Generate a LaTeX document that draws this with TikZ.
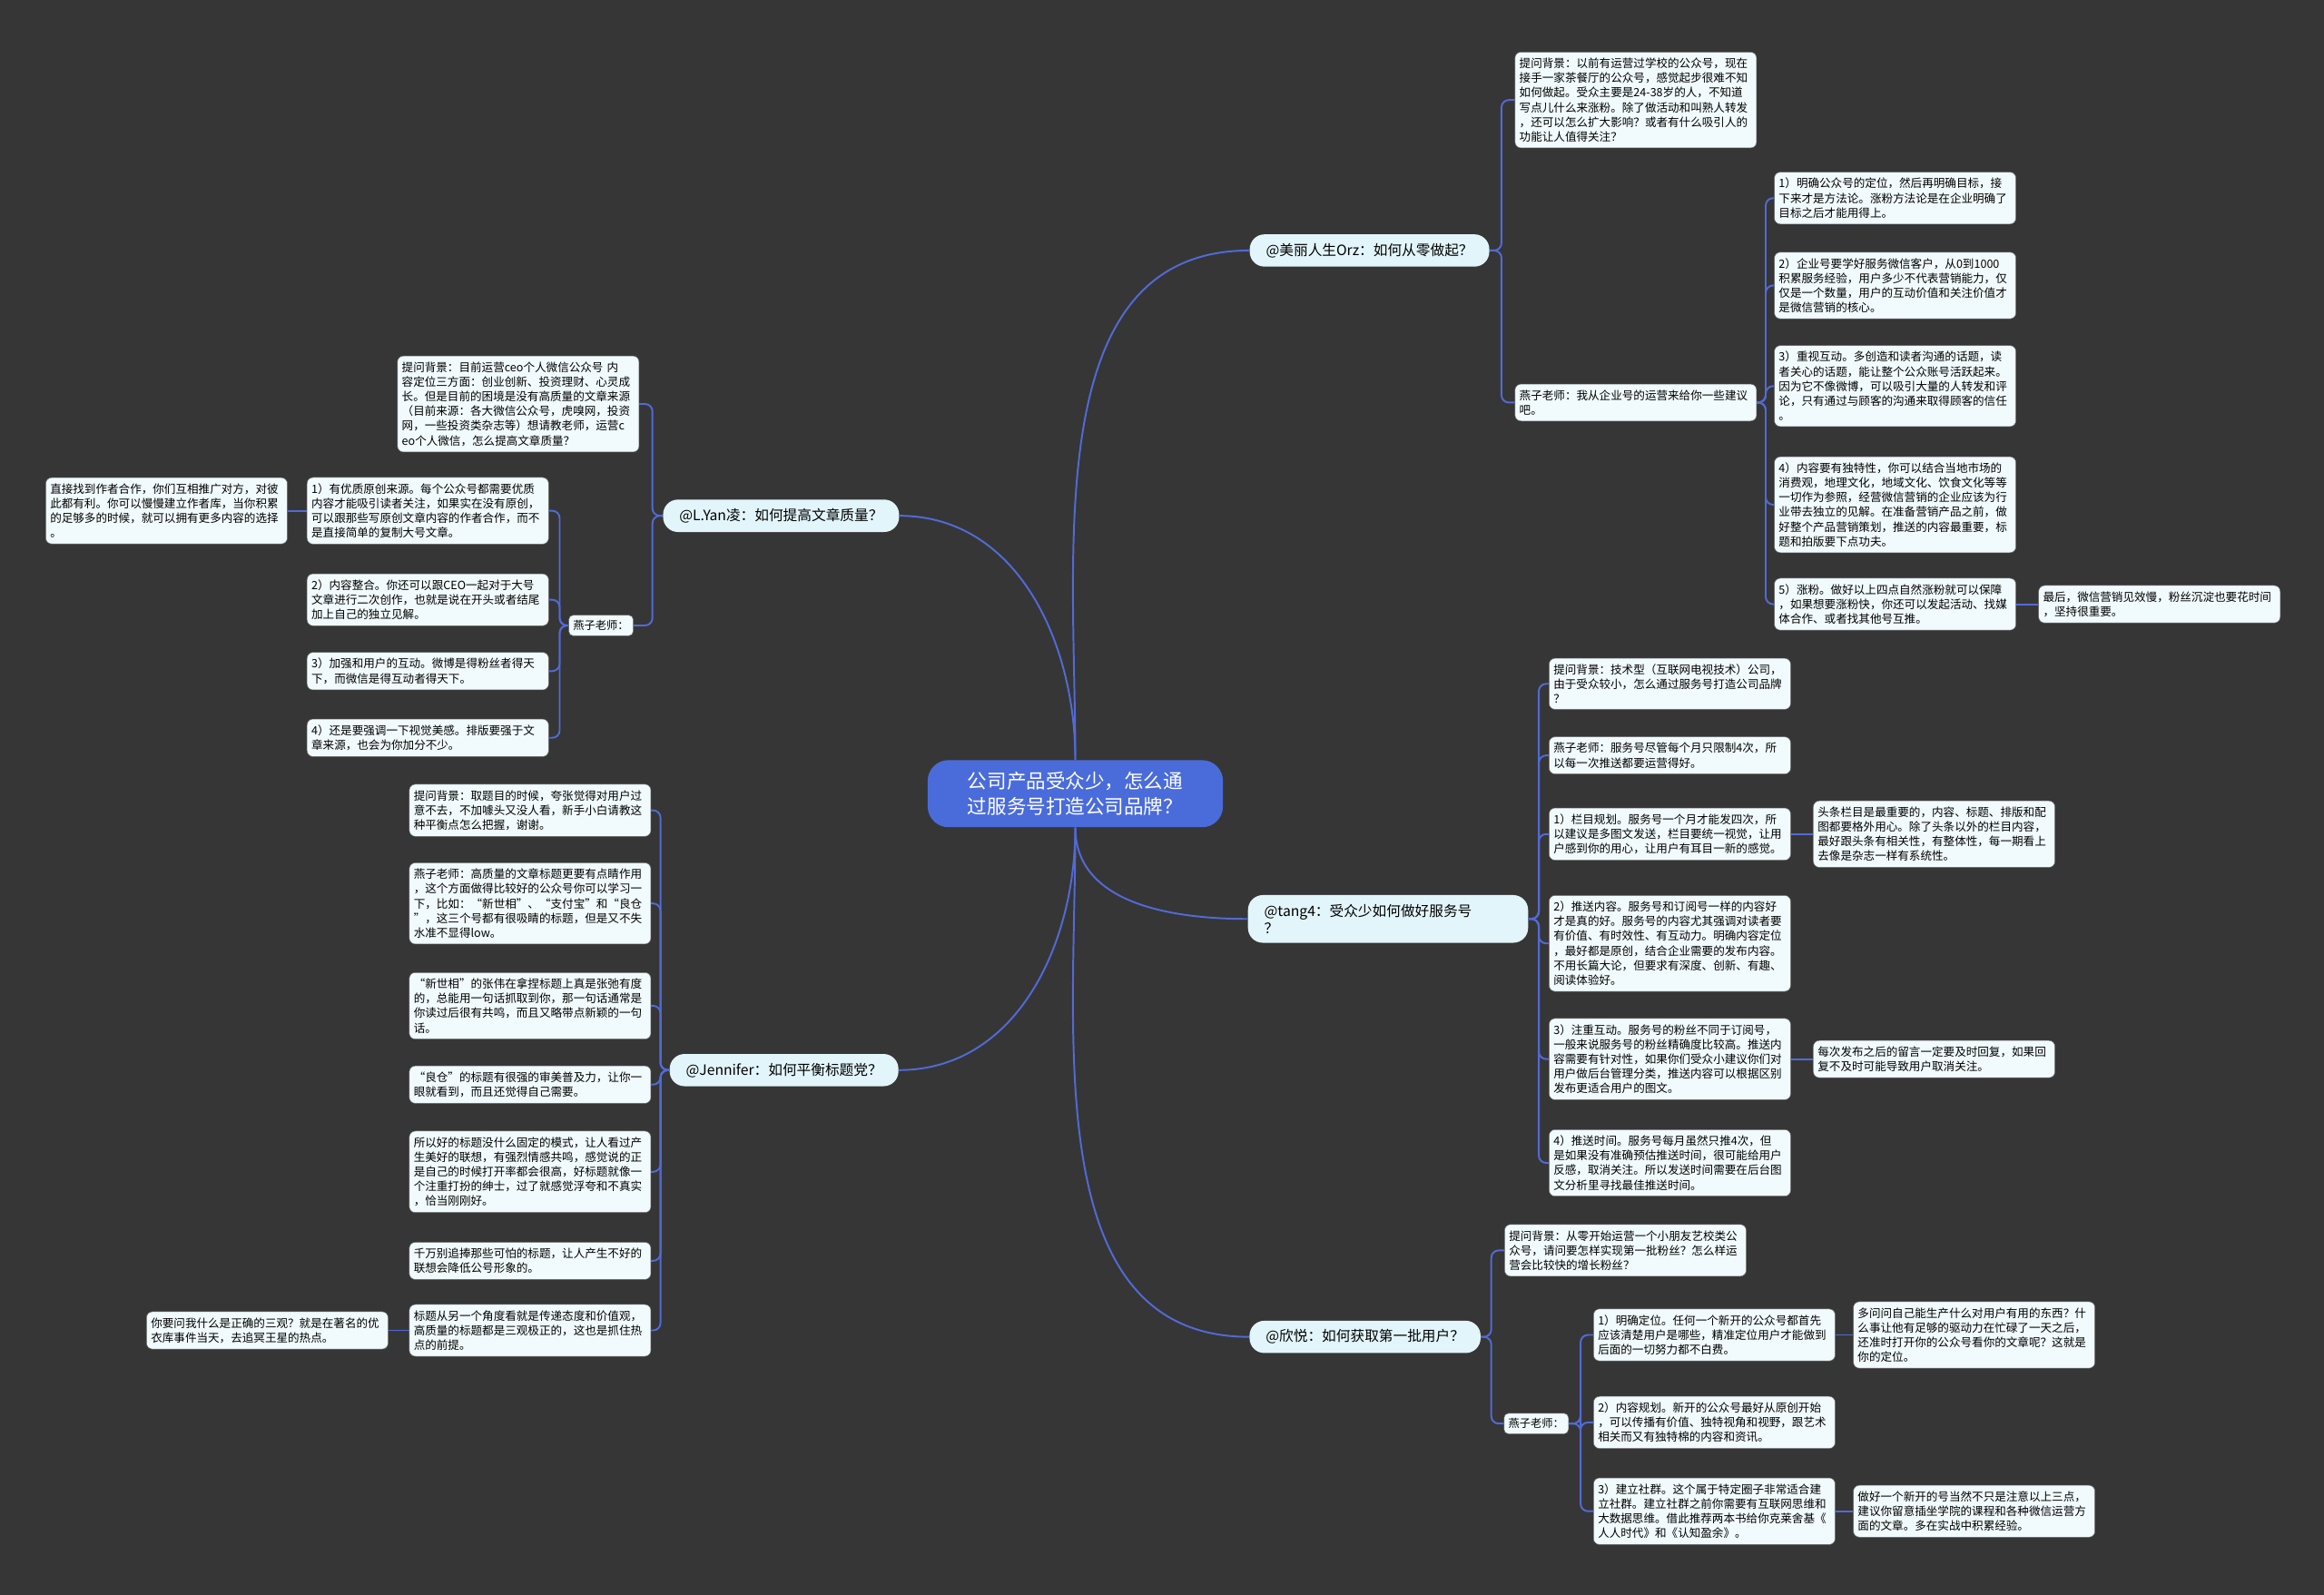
\documentclass[tikz,border=0pt]{standalone}
\usepackage{fontspec}
\usepackage{tikz}
\usepackage{xcolor}
\usetikzlibrary{positioning}
\newfontfamily\cjk{Noto Sans CJK SC}
\definecolor{fondo}{RGB}{54,54,54}
\definecolor{azulraiz}{RGB}{74,108,218}
\definecolor{azullinea}{RGB}{82,106,214}
\definecolor{celeste}{RGB}{226,245,250}
\definecolor{nube}{RGB}{241,250,252}

\begin{document}
\begin{tikzpicture}[x=1pt, y=-1pt,
	raiz/.style={fill=azulraiz, text=white, rounded corners=14pt, align=center, inner xsep=27pt, inner ysep=8pt, font=\cjk\fontsize{13.2}{17}\selectfont},
	rama/.style={fill=celeste, rounded corners=10pt, align=left, inner xsep=11pt, inner ysep=6pt, font=\cjk\fontsize{9.6}{12}\selectfont},
	nota/.style={fill=nube, draw=black!60, line width=0.3pt, rounded corners=4pt, anchor=north west, text width=157pt, align=left, inner xsep=3pt, inner ysep=4pt, font=\cjk\fontsize{7.7}{9.9}\selectfont},
	etiqueta/.style={fill=nube, draw=black!60, line width=0.3pt, rounded corners=3pt, inner xsep=3pt, inner ysep=3.5pt, font=\cjk\fontsize{7.5}{9.75}\selectfont},
	arista/.style={draw=azullinea, line width=1.2pt, rounded corners=5pt}
	]

	%Fondo
	\path[use as bounding box, fill=fondo] (0,0) rectangle (1568,1076);

	%Nodo central y ramas
	\node[raiz] (c) at (725.5,535.5) {公司产品受众少，怎么通\\过服务号打造公司品牌？};
	\node[rama] (b1) at (924,169) {@美丽人生Orz：如何从零做起？};
	\node[rama] (b2) at (527,348) {@L.Yan凌：如何提高文章质量？};
	\node[rama] (b3) at (529,722) {@Jennifer：如何平衡标题党？};
	\node[rama, text width=167pt] (b4) at (936.5,620) {@tang4：受众少如何做好服务号\\？};
	\node[rama] (b5) at (921,902) {@欣悦：如何获取第一批用户？};

	\draw[arista] (c.north) to[out=90,in=180] (b1.west);
	\draw[arista] (c.north) to[out=90,in=0] (b2.east);
	\draw[arista] (c.south) to[out=-90,in=0] (b3.east);
	\draw[arista] (c.south) to[out=-90,in=180] (b4.west);
	\draw[arista] (c.south) to[out=-90,in=180] (b5.west);

	%Rama 1
	\node[nota] (q1) at (1022,35) {提问背景：以前有运营过学校的公众号，现在\\接手一家茶餐厅的公众号，感觉起步很难不知\\如何做起。受众主要是24-38岁的人，不知道\\写点儿什么来涨粉。除了做活动和叫熟人转发\\，还可以怎么扩大影响？或者有什么吸引人的\\功能让人值得关注？};
	\node[nota] (r0) at (1022,259) {燕子老师：我从企业号的运营来给你一些建议\\吧。};
	\node[nota] (r1) at (1197,116) {1）明确公众号的定位，然后再明确目标，接\\下来才是方法论。涨粉方法论是在企业明确了\\目标之后才能用得上。};
	\node[nota] (r2) at (1197,170) {2）企业号要学好服务微信客户，从0到1000\\积累服务经验，用户多少不代表营销能力，仅\\仅是一个数量，用户的互动价值和关注价值才\\是微信营销的核心。};
	\node[nota] (r3) at (1197,233) {3）重视互动。多创造和读者沟通的话题，读\\者关心的话题，能让整个公众账号活跃起来。\\因为它不像微博，可以吸引大量的人转发和评\\论，只有通过与顾客的沟通来取得顾客的信任\\。};
	\node[nota] (r4) at (1197,308) {4）内容要有独特性，你可以结合当地市场的\\消费观，地理文化，地域文化、饮食文化等等\\一切作为参照，经营微信营销的企业应该为行\\业带去独立的见解。在准备营销产品之前，做\\好整个产品营销策划，推送的内容最重要，标\\题和拍版要下点功夫。};
	\node[nota] (r5) at (1197,390) {5）涨粉。做好以上四点自然涨粉就可以保障\\，如果想要涨粉快，你还可以发起活动、找媒\\体合作、或者找其他号互推。};
	\node[nota, right=15pt of r5] (r5a) {最后，微信营销见效慢，粉丝沉淀也要花时间\\，坚持很重要。};

	\draw[arista] (b1.east) -- ++(8,0) |- (q1.west);
	\draw[arista] (b1.east) -- ++(8,0) |- (r0.west);
	\draw[arista] (r0.east) -- ++(6,0) |- (r1.west);
	\draw[arista] (r0.east) -- ++(6,0) |- (r2.west);
	\draw[arista] (r0.east) -- ++(6,0) |- (r3.west);
	\draw[arista] (r0.east) -- ++(6,0) |- (r4.west);
	\draw[arista] (r0.east) -- ++(6,0) |- (r5.west);
	\draw[arista] (r5.east) -- (r5a.west);

	%Rama 2
	\node[nota] (lq) at (268,240) {提问背景：目前运营ceo个人微信公众号 内\\容定位三方面：创业创新、投资理财、心灵成\\长。但是目前的困境是没有高质量的文章来源\\（目前来源：各大微信公众号，虎嗅网，投资\\网，一些投资类杂志等）想请教老师，运营c\\eo个人微信，怎么提高文章质量？};
	\node[etiqueta] (lt) at (405.5,422) {燕子老师：};
	\node[nota] (l1) at (207,322) {1）有优质原创来源。每个公众号都需要优质\\内容才能吸引读者关注，如果实在没有原创，\\可以跟那些写原创文章内容的作者合作，而不\\是直接简单的复制大号文章。};
	\node[nota] (l2) at (207,387) {2）内容整合。你还可以跟CEO一起对于大号\\文章进行二次创作，也就是说在开头或者结尾\\加上自己的独立见解。};
	\node[nota] (l3) at (207,440) {3）加强和用户的互动。微博是得粉丝者得天\\下，而微信是得互动者得天下。};
	\node[nota] (l4) at (207,485) {4）还是要强调一下视觉美感。排版要强于文\\章来源，也会为你加分不少。};
	\node[nota, left=13pt of l1] (l1a) {直接找到作者合作，你们互相推广对方，对彼\\此都有利。你可以慢慢建立作者库，当你积累\\的足够多的时候，就可以拥有更多内容的选择\\。};

	\draw[arista] (b2.west) -- ++(-7,0) |- (lq.east);
	\draw[arista] (b2.west) -- ++(-7,0) |- (lt.east);
	\draw[arista] (lt.west) -- ++(-6,0) |- (l1.east);
	\draw[arista] (lt.west) -- ++(-6,0) |- (l2.east);
	\draw[arista] (lt.west) -- ++(-6,0) |- (l3.east);
	\draw[arista] (lt.west) -- ++(-6,0) |- (l4.east);
	\draw[arista] (l1.west) -- (l1a.east);

	%Rama 3
	\node[nota] (j1) at (276,529) {提问背景：取题目的时候，夸张觉得对用户过\\意不去，不加噱头又没人看，新手小白请教这\\种平衡点怎么把握，谢谢。};
	\node[nota] (j2) at (276,582) {燕子老师：高质量的文章标题更要有点睛作用\\，这个方面做得比较好的公众号你可以学习一\\下，比如：“新世相”、“支付宝”和“良仓\\”，这三个号都有很吸睛的标题，但是又不失\\水准不显得low。};
	\node[nota] (j3) at (276,656) {“新世相”的张伟在拿捏标题上真是张弛有度\\的，总能用一句话抓取到你，那一句话通常是\\你读过后很有共鸣，而且又略带点新颖的一句\\话。};
	\node[nota] (j4) at (276,719) {“良仓”的标题有很强的审美普及力，让你一\\眼就看到，而且还觉得自己需要。};
	\node[nota] (j5) at (276,763) {所以好的标题没什么固定的模式，让人看过产\\生美好的联想，有强烈情感共鸣，感觉说的正\\是自己的时候打开率都会很高，好标题就像一\\个注重打扮的绅士，过了就感觉浮夸和不真实\\，恰当刚刚好。};
	\node[nota] (j6) at (276,838) {千万别追捧那些可怕的标题，让人产生不好的\\联想会降低公号形象的。};
	\node[nota] (j7) at (276,880) {标题从另一个角度看就是传递态度和价值观，\\高质量的标题都是三观极正的，这也是抓住热\\点的前提。};
	\node[nota, left=14pt of j7] (j7a) {你要问我什么是正确的三观？就是在著名的优\\衣库事件当天，去追冥王星的热点。};

	\draw[arista] (b3.west) -- ++(-6,0) |- (j1.east);
	\draw[arista] (b3.west) -- ++(-6,0) |- (j2.east);
	\draw[arista] (b3.west) -- ++(-6,0) |- (j3.east);
	\draw[arista] (b3.west) -- ++(-6,0) |- (j4.east);
	\draw[arista] (b3.west) -- ++(-6,0) |- (j5.east);
	\draw[arista] (b3.west) -- ++(-6,0) |- (j6.east);
	\draw[arista] (b3.west) -- ++(-6,0) |- (j7.east);
	\draw[arista] (j7.west) -- (j7a.east);

	%Rama 4
	\node[nota] (t1) at (1045,444) {提问背景：技术型（互联网电视技术）公司，\\由于受众较小，怎么通过服务号打造公司品牌\\？};
	\node[nota] (t2) at (1045,497) {燕子老师：服务号尽管每个月只限制4次，所\\以每一次推送都要运营得好。};
	\node[nota] (t3) at (1045,545) {1）栏目规划。服务号一个月才能发四次，所\\以建议是多图文发送，栏目要统一视觉，让用\\户感到你的用心，让用户有耳目一新的感觉。};
	\node[nota] (t4) at (1045,604) {2）推送内容。服务号和订阅号一样的内容好\\才是真的好。服务号的内容尤其强调对读者要\\有价值、有时效性、有互动力。明确内容定位\\，最好都是原创，结合企业需要的发布内容。\\不用长篇大论，但要求有深度、创新、有趣、\\阅读体验好。};
	\node[nota] (t5) at (1045,687) {3）注重互动。服务号的粉丝不同于订阅号，\\一般来说服务号的粉丝精确度比较高。推送内\\容需要有针对性，如果你们受众小建议你们对\\用户做后台管理分类，推送内容可以根据区别\\发布更适合用户的图文。};
	\node[nota] (t6) at (1045,762) {4）推送时间。服务号每月虽然只推4次，但\\是如果没有准确预估推送时间，很可能给用户\\反感，取消关注。所以发送时间需要在后台图\\文分析里寻找最佳推送时间。};
	\node[nota, right=15pt of t3] (t3a) {头条栏目是最重要的，内容、标题、排版和配\\图都要格外用心。除了头条以外的栏目内容，\\最好跟头条有相关性，有整体性，每一期看上\\去像是杂志一样有系统性。};
	\node[nota, right=15pt of t5] (t5a) {每次发布之后的留言一定要及时回复，如果回\\复不及时可能导致用户取消关注。};

	\draw[arista] (b4.east) -- ++(7,0) |- (t1.west);
	\draw[arista] (b4.east) -- ++(7,0) |- (t2.west);
	\draw[arista] (b4.east) -- ++(7,0) |- (t3.west);
	\draw[arista] (b4.east) -- ++(7,0) |- (t4.west);
	\draw[arista] (b4.east) -- ++(7,0) |- (t5.west);
	\draw[arista] (b4.east) -- ++(7,0) |- (t6.west);
	\draw[arista] (t3.east) -- (t3a.west);
	\draw[arista] (t5.east) -- (t5a.west);

	%Rama 5
	\node[nota] (x1) at (1015,826) {提问背景：从零开始运营一个小朋友艺校类公\\众号，请问要怎样实现第一批粉丝？怎么样运\\营会比较快的增长粉丝？};
	\node[etiqueta] (xt) at (1036.5,960.5) {燕子老师：};
	\node[nota] (y1) at (1075,883) {1）明确定位。任何一个新开的公众号都首先\\应该清楚用户是哪些，精准定位用户才能做到\\后面的一切努力都不白费。};
	\node[nota] (y2) at (1075,942) {2）内容规划。新开的公众号最好从原创开始\\，可以传播有价值、独特视角和视野，跟艺术\\相关而又有独特棉的内容和资讯。};
	\node[nota] (y3) at (1075,997) {3）建立社群。这个属于特定圈子非常适合建\\立社群。建立社群之前你需要有互联网思维和\\大数据思维。借此推荐两本书给你克莱舍基《\\人人时代》和《认知盈余》。};
	\node[nota, right=12pt of y1] (y1a) {多问问自己能生产什么对用户有用的东西？什\\么事让他有足够的驱动力在忙碌了一天之后，\\还准时打开你的公众号看你的文章呢？这就是\\你的定位。};
	\node[nota, right=12pt of y3] (y3a) {做好一个新开的号当然不只是注意以上三点，\\建议你留意插坐学院的课程和各种微信运营方\\面的文章。多在实战中积累经验。};

	\draw[arista] (b5.east) -- ++(7,0) |- (x1.west);
	\draw[arista] (b5.east) -- ++(7,0) |- (xt.west);
	\draw[arista] (xt.east) -- ++(8,0) |- (y1.west);
	\draw[arista] (xt.east) -- ++(8,0) |- (y2.west);
	\draw[arista] (xt.east) -- ++(8,0) |- (y3.west);
	\draw[arista] (y1.east) -- (y1a.west);
	\draw[arista] (y3.east) -- (y3a.west);

\end{tikzpicture}
\end{document}
